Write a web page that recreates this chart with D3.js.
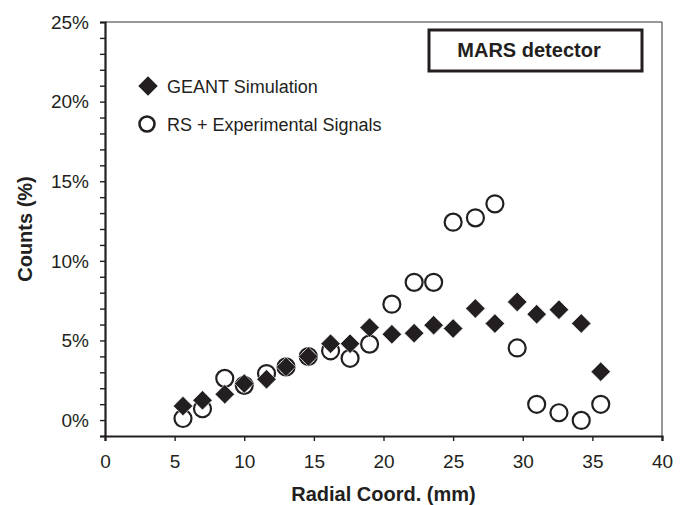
<!DOCTYPE html>
<html>
<head>
<meta charset="utf-8">
<script src="https://cdn.jsdelivr.net/npm/d3@7"></script>
<style>
  body { margin: 0; background: #fff; }
  text { font-family: "Liberation Sans", Arial, sans-serif; fill: #231f20; }
</style>
</head>
<body>
<div id="chart"></div>
<script>
const width = 689;
const height = 505;

// radial bins (mm)
const radial = [5.6, 7.0, 8.6, 10.0, 11.6, 13.0, 14.6, 16.2, 17.6, 19.0, 20.6,
                22.2, 23.6, 25.0, 26.6, 28.0, 29.6, 31.0, 32.6, 34.2, 35.6];
// counts (%)
const geant = [0.88, 1.24, 1.62, 2.29, 2.56, 3.34, 3.99, 4.8, 4.8, 5.81, 5.39,
               5.46, 5.96, 5.75, 7.01, 6.06, 7.42, 6.65, 6.93, 6.07, 3.04];
const rsExp = [0.1, 0.71, 2.62, 2.18, 2.92, 3.34, 3.99, 4.35, 3.88, 4.77, 7.28,
               8.65, 8.65, 12.43, 12.7, 13.58, 4.53, 0.99, 0.46, -0.02, 0.99];

const xTicks = [0, 5, 10, 15, 20, 25, 30, 35, 40];
const yTicks = [0, 5, 10, 15, 20, 25];
const yMinor = d3.range(-1, 26, 1);

const margin = {left: 105, right: 27, top: 22, bottom: 69};

const svg = d3.select("#chart")
    .append("svg")
    .attr("width", width)
    .attr("height", height);

const x = d3.scaleLinear()
    .domain([0, 40])
    .range([margin.left, width - margin.right]);

const y = d3.scaleLinear()
    .domain([-1, 25])
    .range([height - margin.bottom, margin.top]);

// frame (top and right, thin)
svg.append("path")
    .attr("d", `M${x(0)},${y(25)}H${x(40)}V${y(-1)}`)
    .attr("fill", "none")
    .attr("stroke", "#333")
    .attr("stroke-width", 1);

// y axis, minor ticks every 1%
const yAxis = svg.append("g")
    .attr("transform", `translate(${x(0)},0)`)
    .call(d3.axisLeft(y).tickValues(yMinor).tickSize(5).tickFormat(""));
yAxis.select(".domain").attr("stroke", "#231f20").attr("stroke-width", 2.2);
yAxis.selectAll(".tick line").attr("stroke", "#231f20").attr("stroke-width", 1.4);

svg.append("g")
    .selectAll("text")
    .data(yTicks)
    .join("text")
    .attr("x", x(0) - 16)
    .attr("y", d => y(d))
    .attr("dy", "0.36em")
    .attr("text-anchor", "end")
    .attr("font-size", 19)
    .text(d => d + "%");

// x axis
const xAxis = svg.append("g")
    .attr("transform", `translate(0,${y(-1)})`)
    .call(d3.axisBottom(x).tickValues(xTicks).tickSize(5).tickPadding(14));
xAxis.select(".domain").attr("stroke", "#231f20").attr("stroke-width", 2.2);
xAxis.selectAll(".tick line").attr("stroke", "#231f20").attr("stroke-width", 1.4);
xAxis.selectAll(".tick text")
    .attr("font-size", 19)
    .attr("font-family", "Liberation Sans, Arial, sans-serif")
    .attr("fill", "#231f20");

// axis titles
svg.append("text")
    .attr("x", x(20))
    .attr("y", 501)
    .attr("text-anchor", "middle")
    .attr("font-size", 20)
    .attr("font-weight", "bold")
    .text("Radial Coord. (mm)");

svg.append("text")
    .attr("transform", `translate(32,${(y(25) + y(-1)) / 2}) rotate(-90)`)
    .attr("text-anchor", "middle")
    .attr("font-size", 20)
    .attr("font-weight", "bold")
    .text("Counts (%)");

// markers
const diamond = d3.symbol(d3.symbolSquare, 190);

svg.append("g")
    .selectAll("circle")
    .data(radial.map((r, i) => [r, rsExp[i]]))
    .join("circle")
    .attr("cx", d => x(d[0]))
    .attr("cy", d => y(d[1]))
    .attr("r", 8.5)
    .attr("fill", "none")
    .attr("stroke", "#231f20")
    .attr("stroke-width", 2.2);

svg.append("g")
    .selectAll("path")
    .data(radial.map((r, i) => [r, geant[i]]))
    .join("path")
    .attr("d", diamond)
    .attr("transform", d => `translate(${x(d[0])},${y(d[1])}) rotate(45)`)
    .attr("fill", "#231f20")
    .attr("stroke", "#fff")
    .attr("stroke-width", 0.6);

// legend
const legend = svg.append("g");
legend.append("path")
    .attr("d", diamond)
    .attr("transform", "translate(148,86) rotate(45)")
    .attr("fill", "#231f20");
legend.append("text")
    .attr("x", 167)
    .attr("y", 92.5)
    .attr("font-size", 18)
    .text("GEANT Simulation");
legend.append("circle")
    .attr("cx", 147)
    .attr("cy", 124)
    .attr("r", 7.5)
    .attr("fill", "none")
    .attr("stroke", "#231f20")
    .attr("stroke-width", 2.6);
legend.append("text")
    .attr("x", 167)
    .attr("y", 131)
    .attr("font-size", 18)
    .text("RS + Experimental Signals");

// title box
svg.append("rect")
    .attr("x", 429)
    .attr("y", 30)
    .attr("width", 213)
    .attr("height", 41)
    .attr("fill", "#fff")
    .attr("stroke", "#231f20")
    .attr("stroke-width", 3);
svg.append("text")
    .attr("x", 529)
    .attr("y", 57)
    .attr("text-anchor", "middle")
    .attr("font-size", 20)
    .attr("font-weight", "bold")
    .text("MARS detector");
</script>
</body>
</html>
